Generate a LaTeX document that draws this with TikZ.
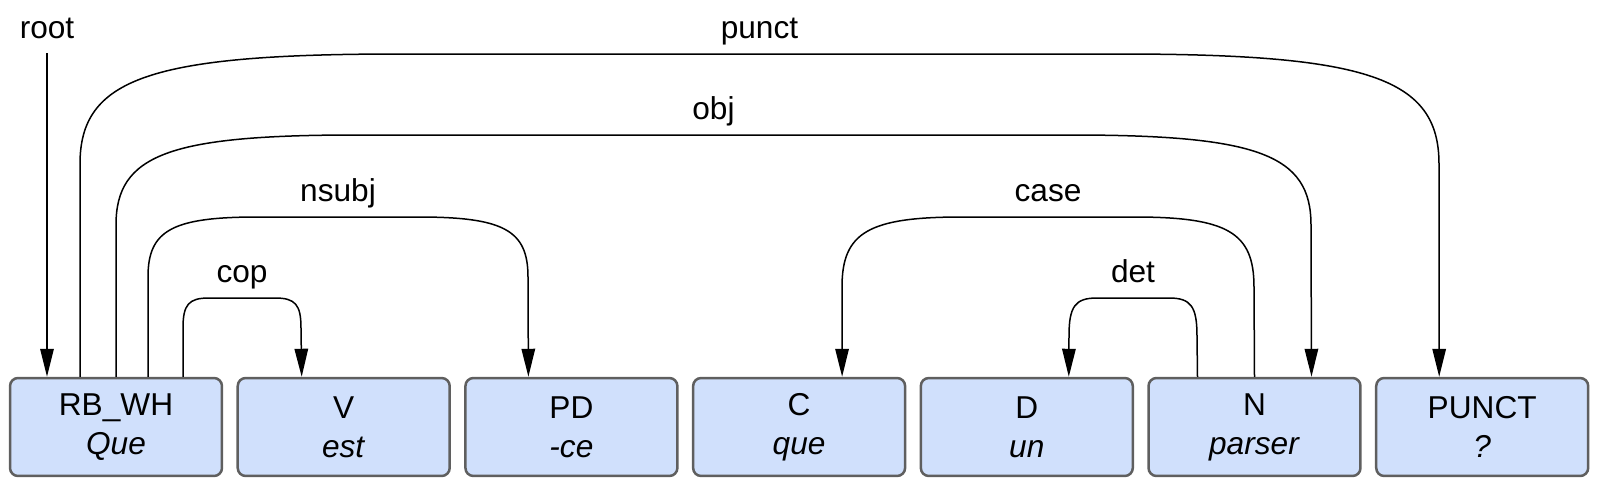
\documentclass[tikz,border=0pt]{standalone}
\usepackage{fontspec}
\setmainfont{Liberation Sans}
\usetikzlibrary{arrows.meta,calc}

\definecolor{tokfill}{RGB}{208,224,252}
\definecolor{tokline}{RGB}{95,95,95}

\tikzset{
  tok/.style={draw=tokline, fill=tokfill, line width=0.05cm, rounded corners=0.16cm,
    minimum width=4.24cm, minimum height=1.96cm, inner sep=0pt, align=center,
    font=\fontsize{18}{22.2}\selectfont},
  lbl/.style={anchor=base, inner sep=0pt, font=\fontsize{18}{22}\selectfont},
  dep/.style={line width=0.03cm, -{Triangle[length=0.56cm,width=0.27cm]}},
}

\begin{document}
\begin{tikzpicture}[x=0.02cm, y=-0.02cm]
\useasboundingbox (0,0) rectangle (1600,480);

\node[tok] (rb) at (116,427)    {RB\_WH\\\textit{Que}};
\node[tok] (v)  at (343.7,427)  {V\\\textit{est}};
\node[tok] (pd) at (571.4,427)  {PD\\\textit{-ce}};
\node[tok] (c)  at (799.1,427)  {C\\\textit{que}};
\node[tok] (d)  at (1026.8,427) {D\\\textit{un}};
\node[tok] (n)  at (1254.5,427) {N\\\textit{parser}};
\node[tok] (pu) at (1482.2,427) {PUNCT\\\textit{?}};

\node[lbl] (root)  at (47,38)    {root};
\node[lbl] (punct) at (759.5,38) {punct};
\node[lbl] (obj)   at (713.5,119) {obj};
\node[lbl] (nsubj) at (338,201)  {nsubj};
\node[lbl] (case)  at (1048,201) {case};
\node[lbl] (cop)   at (242,282)  {cop};
\node[lbl] (det)   at (1133,282) {det};

% root
\draw[dep] ($(root.base)+(0,15)$) -- ($(rb.north)+(-69,0)$);
% punct
\draw[dep] ($(rb.north)+(-36,0)$) -- (80,164)
  .. controls (80,78.2) and (150.4,54) .. (400,54) -- (1119,54)
  .. controls (1368.6,54) and (1439,78.2) .. (1439,164)
  -- ($(pu.north)+(-43,0)$);
% obj
\draw[dep] (rb.north) -- (116,225)
  .. controls (116,154.8) and (168.8,135) .. (356,135) -- (1071,135)
  .. controls (1258.2,135) and (1311,154.8) .. (1311,225)
  -- ($(n.north)+(57,0)$);
% nsubj
\draw[dep] ($(rb.north)+(32,0)$) -- (148,277)
  .. controls (148,230.2) and (172.2,217) .. (258,217) -- (418,217)
  .. controls (503.8,217) and (528,230.2) .. (528,277)
  -- ($(pd.north)+(-43,0)$);
% cop
\draw[dep] ($(rb.north)+(67,0)$) -- (183,328)
  .. controls (183,304.6) and (188.7,298) .. (209,298) -- (275,298)
  .. controls (295.3,298) and (301,304.6) .. (301,328)
  -- ($(v.north)+(-42,0)$);
% case
\draw[dep] (n.north) -- (1254,287)
  .. controls (1254,232.4) and (1227.6,217) .. (1134,217) -- (962,217)
  .. controls (868.4,217) and (842,232.4) .. (842,287)
  -- ($(c.north)+(43,0)$);
% det
\draw[dep] ($(n.north)+(-57,0)$) -- (1197,336)
  .. controls (1197,306.4) and (1190.8,298) .. (1169,298) -- (1097,298)
  .. controls (1075.2,298) and (1069,306.4) .. (1069,336)
  -- ($(d.north)+(42,0)$);
\end{tikzpicture}
\end{document}
